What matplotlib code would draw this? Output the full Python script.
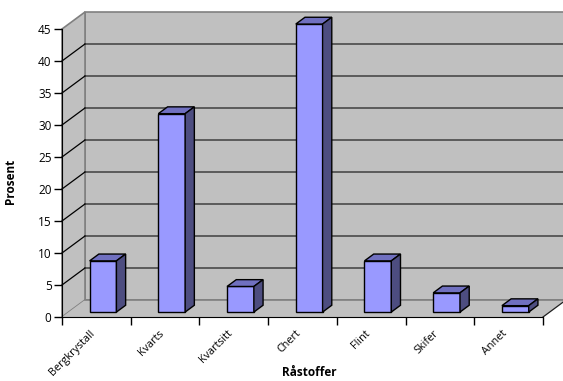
import matplotlib.pyplot as plt
from matplotlib.patches import Polygon
from matplotlib.transforms import ScaledTranslation

plt.rcParams['font.family'] = ['Open Sans', 'DejaVu Sans']

# Data
kategorier = ['Bergkrystall', 'Kvarts', 'Kvartsitt', 'Chert', 'Flint', 'Skifer', 'Annet']
prosent = [8, 31, 4, 45, 8, 3, 1]
yticks = list(range(0, 50, 5))

# 3D look (in data units)
dx, dy = 0.335, 2.66      # depth of the chart box
f0 = 0.29                 # where the bars start in depth
bd = 0.40                 # bar depth as fraction of box depth
bw = 0.39                 # bar width
ymax = 45
n = len(kategorier)

fig = plt.figure(figsize=(5.63, 3.81), dpi=100)
ax = fig.add_axes([62 / 563, 64 / 381, 481 / 563, 288 / 381])
ax.set_xlim(-0.5, n - 0.5)
ax.set_ylim(0, ymax)
ax.patch.set_visible(False)

wall = '#c0c0c0'
x0, x1 = -0.5, n - 0.5
# back wall
ax.add_patch(Polygon([(x0 + dx, dy), (x1 + dx, dy), (x1 + dx, ymax + dy), (x0 + dx, ymax + dy)],
                     closed=True, fc=wall, ec='#808080', lw=1.2, clip_on=False, zorder=0))
# side wall
ax.add_patch(Polygon([(x0, 0), (x0 + dx, dy), (x0 + dx, ymax + dy), (x0, ymax)],
                     closed=True, fc=wall, ec='#808080', lw=1.2, clip_on=False, zorder=0))
# floor
ax.add_patch(Polygon([(x0, 0), (x1, 0), (x1 + dx, dy), (x0 + dx, dy)],
                     closed=True, fc=wall, ec='none', clip_on=False, zorder=0))
ax.plot([x1, x1 + dx], [0, dy], color='#202020', lw=0.9, clip_on=False, zorder=1)
ax.plot([x0 + dx, x1 + dx], [dy, dy], color='#808080', lw=1.2, clip_on=False, zorder=1)

# gridlines
for v in yticks[1:-1]:
    ax.plot([x0 + dx, x1 + dx], [v + dy, v + dy], color='#404040', lw=1.1, clip_on=False, zorder=1)
    ax.plot([x0, x0 + dx], [v, v + dy], color='black', lw=0.9, clip_on=False, zorder=1)

# bars
xs = [i + f0 * dx for i in range(n)]
b = f0 * dy
bars = ax.bar(xs, prosent, width=bw, bottom=b, color='#9999ff', edgecolor='black', lw=1, zorder=3)
for p in bars:
    p.set_clip_on(False)
for x, v in zip(xs, prosent):
    l, r = x - bw / 2, x + bw / 2
    ox, oy = bd * dx, bd * dy
    ax.add_patch(Polygon([(l, b + v), (r, b + v), (r + ox, b + v + oy), (l + ox, b + v + oy)],
                         closed=True, fc='#7070c0', ec='black', lw=1, zorder=3, clip_on=False))
    ax.add_patch(Polygon([(r, b), (r + ox, b + oy), (r + ox, b + v + oy), (r, b + v)],
                         closed=True, fc='#4d4d80', ec='black', lw=1, zorder=3, clip_on=False))

for s in ['top', 'right']:
    ax.spines[s].set_visible(False)
for s in ['left', 'bottom']:
    ax.spines[s].set_color('black')
    ax.spines[s].set_zorder(4)

ax.set_yticks(yticks)
ax.tick_params(axis='y', length=6, width=1, labelsize=8.5, pad=1.5)
ax.set_xticks(range(n))
ax.set_xticklabels(kategorier, rotation=45, ha='right', va='top', rotation_mode='anchor', fontsize=7.8)
ax.set_xticks([i - 0.5 for i in range(n + 1)], minor=True)
ax.tick_params(axis='x', which='major', length=0, pad=8)
ax.tick_params(axis='x', which='minor', length=6, width=1)
shift = ScaledTranslation(-0.07, 0, fig.dpi_scale_trans)
for lab in ax.get_xticklabels():
    lab.set_transform(lab.get_transform() + shift)

ax.set_xlabel('Råstoffer', fontsize=8.5, fontweight='bold')
ax.xaxis.set_label_coords(0.515, -0.17)
ax.set_ylabel('Prosent', fontsize=8.5, fontweight='bold')
ax.yaxis.set_label_coords(-0.094, 0.47)

fig.savefig('out.png', dpi=100)
